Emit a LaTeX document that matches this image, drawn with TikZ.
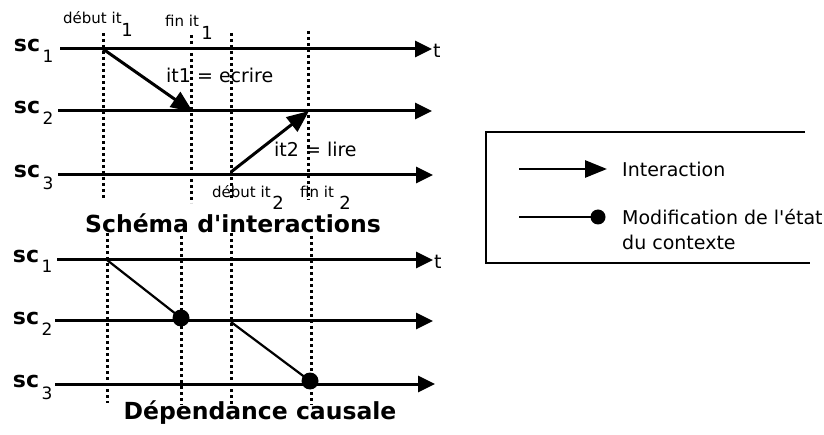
\documentclass[tikz,border=0pt]{standalone}
\usepackage{fontspec}
\setmainfont{DejaVu Sans}
\usetikzlibrary{arrows.meta}
\begin{document}
\begin{tikzpicture}[x=1pt,y=-1pt,
  axis/.style={line width=3pt,-{Triangle[length=17pt,width=16pt]}},
  inter/.style={line width=3pt,-{Triangle[length=22pt,width=18pt]}},
  causal/.style={line width=2.2pt},
  dotline/.style={line width=3pt,dash pattern=on 3pt off 3pt},
  dotmark/.style={circle,fill=black,inner sep=0pt,minimum size=17pt},
  sclab/.style={font=\fontsize{22}{22}\selectfont\bfseries,inner sep=0pt},
  subs/.style={font=\fontsize{17}{17}\selectfont,inner sep=0pt},
  itsub/.style={font=\fontsize{18}{18}\selectfont,inner sep=0pt},
  smalltxt/.style={font=\fontsize{15}{15}\selectfont,inner sep=0pt,anchor=west},
  lab/.style={font=\fontsize{19}{19}\selectfont,inner sep=0pt,anchor=west},
  title/.style={font=\fontsize{23.5}{23.5}\selectfont\bfseries,inner sep=0pt}
]
\useasboundingbox (0,0) rectangle (824,435);

% ---------- top: Schema d'interactions ----------
\node[sclab] (s1) at (27,45) {sc}; \node[subs] (s1i) at (48,56) {1};
\node[sclab] (s2) at (27,107) {sc}; \node[subs] (s2i) at (48,118) {2};
\node[sclab] (s3) at (27,171) {sc}; \node[subs] (s3i) at (48,183) {3};

\coordinate (a1s) at (60,49);  \coordinate (a1e) at (432,49);
\coordinate (a2s) at (58,111); \coordinate (a2e) at (432,111);
\coordinate (a3s) at (58,175); \coordinate (a3e) at (433,175);

\coordinate (v1t) at (103,33); \coordinate (v1b) at (103,199);
\coordinate (v2t) at (191,35); \coordinate (v2b) at (191,203);
\coordinate (v3t) at (231,33); \coordinate (v3b) at (231,200);
\coordinate (v4t) at (308,31); \coordinate (v4b) at (308,200);
\foreach \v in {1,2,3,4} \draw[dotline] (v\v t) -- (v\v b);

\draw[axis] (a1s) -- (a1e);
\draw[axis] (a2s) -- (a2e);
\draw[axis] (a3s) -- (a3e);
\node[lab] (t1) at (433,51) {t};

\coordinate (i1s) at (103,49); \coordinate (i1e) at (193,112);
\coordinate (i2s) at (231,172); \coordinate (i2e) at (309,111);
\draw[inter] (i1s) -- (i1e);
\draw[inter] (i2s) -- (i2e);

\node[lab] (l1) at (166,75) {it1 = ecrire};
\node[lab] (l2) at (274,149) {it2 = lire};

\node[smalltxt] (d1) at (63,18) {début it}; \node[itsub] (d1i) at (127,30) {1};
\node[smalltxt] (f1) at (165,21) {fin it};  \node[itsub] (f1i) at (207,33) {1};
\node[smalltxt] (d2) at (212,192) {début it}; \node[itsub] (d2i) at (278,203) {2};
\node[smalltxt] (f2) at (300,192) {fin it};  \node[itsub] (f2i) at (345,203) {2};

\node[title] (T1) at (233,223) {Schéma d\textquotesingle interactions};

% ---------- bottom: Dependance causale ----------
\node[sclab] (r1) at (26,256) {sc}; \node[subs] (r1i) at (47,266) {1};
\node[sclab] (r2) at (26,318) {sc}; \node[subs] (r2i) at (47,329) {2};
\node[sclab] (r3) at (26,381) {sc}; \node[subs] (r3i) at (47,393) {3};

\coordinate (b1s) at (57,260);  \coordinate (b1e) at (433,260);
\coordinate (b2s) at (55,321);  \coordinate (b2e) at (433,321);
\coordinate (b3s) at (55,384);  \coordinate (b3e) at (435,384);

\coordinate (w1t) at (107,233); \coordinate (w1b) at (107,403);
\coordinate (w2t) at (181,236); \coordinate (w2b) at (181,405);
\coordinate (w3t) at (231,233); \coordinate (w3b) at (231,404);
\coordinate (w4t) at (311,236); \coordinate (w4b) at (311,405);
\foreach \v in {1,2,3,4} \draw[dotline] (w\v t) -- (w\v b);

\draw[axis] (b1s) -- (b1e);
\draw[axis] (b2s) -- (b2e);
\draw[axis] (b3s) -- (b3e);
\node[lab] (t2) at (434,262) {t};

\node[dotmark] (m1) at (181,318) {};
\node[dotmark] (m2) at (310,381) {};
\coordinate (c1s) at (107,260);
\coordinate (c2s) at (231,322);
\draw[causal] (c1s) -- (m1.center);
\draw[causal] (c2s) -- (m2.center);

\node[title] (T2) at (260,413) {Dépendance causale};

% ---------- legend ----------
\coordinate (gA) at (805,132); \coordinate (gB) at (486,132);
\coordinate (gC) at (486,263); \coordinate (gD) at (810,263);
\draw[line width=2.5pt] (gA) -- (gB) -- (gC) -- (gD);

\coordinate (e1s) at (519,169); \coordinate (e1e) at (607,169);
\draw[line width=2.8pt,-{Triangle[length=22pt,width=17pt]}] (e1s) -- (e1e);
\node[lab] (e1t) at (622,169) {Interaction};

\coordinate (e2s) at (519,217);
\node[dotmark,minimum size=15pt] (e2d) at (598,217) {};
\draw[line width=2.8pt] (e2s) -- (e2d.center);
\node[lab] (e2t) at (622,217) {Modification de l\textquotesingle état};
\node[lab] (e3t) at (622,242) {du contexte};
\end{tikzpicture}
\end{document}
